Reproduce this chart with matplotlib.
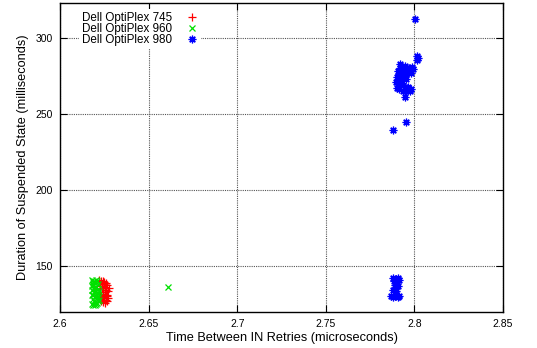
import matplotlib
matplotlib.use("Agg")
import matplotlib.pyplot as plt

plt.rcParams['font.family'] = ['Liberation Sans', 'DejaVu Sans']

series_names = ["Dell OptiPlex 745", "Dell OptiPlex 960", "Dell OptiPlex 980"]

red_x = [2.6222, 2.6230, 2.6245, 2.6258, 2.6268, 2.6225, 2.6238, 2.6250, 2.6262, 2.6272,
         2.6228, 2.6240, 2.6255, 2.6265, 2.6220, 2.6235, 2.6248, 2.6260, 2.6270, 2.6232,
         2.6244, 2.6256, 2.6266, 2.6226, 2.6238, 2.6252, 2.6263, 2.6274, 2.6230, 2.6246]
red_y = [140.5, 139.8, 140.2, 138.9, 137.5, 136.8, 135.5, 137.9, 134.2, 133.5,
         132.9, 131.8, 133.0, 130.5, 129.8, 128.6, 129.5, 127.9, 128.8, 126.8,
         126.2, 125.9, 127.0, 134.8, 138.2, 136.0, 131.2, 135.8, 130.0, 139.5]

green_x = [2.6178, 2.6185, 2.6192, 2.6200, 2.6208, 2.6215, 2.6180, 2.6188, 2.6196, 2.6204,
           2.6212, 2.6220, 2.6182, 2.6190, 2.6198, 2.6206, 2.6214, 2.6179, 2.6187, 2.6195,
           2.6203, 2.6211, 2.6219, 2.6184, 2.6192, 2.6200, 2.6208, 2.6216, 2.6181, 2.6189,
           2.6197, 2.6205, 2.6213, 2.6186, 2.6194, 2.6202, 2.6210, 2.6612]
green_y = [140.8, 139.5, 140.2, 138.6, 139.9, 137.8, 136.9, 137.5, 135.8, 136.4,
           134.9, 133.8, 134.2, 132.8, 133.5, 131.9, 132.4, 130.8, 131.2, 129.6,
           130.1, 128.7, 127.9, 128.2, 127.0, 126.5, 125.8, 126.9, 125.2, 124.6,
           124.1, 124.9, 129.4, 138.2, 135.1, 141.0, 130.6, 136.2]

blue_x = [2.7882, 2.7895, 2.7908, 2.7885, 2.7900, 2.7912, 2.7890, 2.7905, 2.7893, 2.7880,
          2.7898, 2.7870, 2.7880, 2.7892, 2.7905, 2.7912,
          2.8003, 2.8015, 2.8018, 2.8012,
          2.7920, 2.7945, 2.7970, 2.7990, 2.7935, 2.7905, 2.7960, 2.7980, 2.7915, 2.7940,
          2.7900, 2.7925, 2.7955, 2.7910, 2.7898, 2.7930, 2.7965, 2.7950, 2.7985, 2.7918,
          2.7905, 2.7925, 2.7945, 2.7965, 2.7980, 2.7915, 2.7935, 2.7955, 2.7975, 2.7900,
          2.7945, 2.7950, 2.7882]
blue_y = [142.0, 141.5, 142.2, 140.0, 139.2, 140.6, 137.5, 136.8, 135.0, 134.2,
          133.5, 130.0, 129.5, 130.2, 129.6, 130.4,
          312.5, 288.0, 286.5, 285.2,
          283.0, 281.5, 280.2, 279.6, 279.0, 278.2, 277.5, 276.8, 276.0, 275.4,
          274.6, 273.8, 273.0, 272.3, 271.2, 270.6, 279.4, 276.2, 281.0, 280.4,
          269.5, 268.8, 268.0, 267.5, 266.6, 266.2, 265.4, 264.8, 265.0, 267.0,
          261.0, 244.5, 239.5]

x_ticks = [2.6, 2.65, 2.7, 2.75, 2.8, 2.85]
x_tick_labels = ["2.6", "2.65", "2.7", "2.75", "2.8", "2.85"]
y_ticks = [150, 200, 250, 300]
y_tick_labels = ["150", "200", "250", "300"]

fig = plt.figure(figsize=(5.37, 3.48), dpi=100)
ax = fig.add_axes([60/537, 36/348, 443/537, 309/348])

ax.plot(red_x, red_y, linestyle='none', marker='+', markersize=6, markeredgewidth=0.9,
        color='#ff0000', label=series_names[0])
ax.plot(green_x, green_y, linestyle='none', marker='x', markersize=4.5, markeredgewidth=0.9,
        color='#00e000', label=series_names[1])
ax.plot(blue_x, blue_y, linestyle='none', marker=(8, 2, 0), markersize=5.5, markeredgewidth=0.9,
        color='#0000ff', label=series_names[2])

ax.set_xlim(2.6, 2.85)
ax.set_ylim(119.7, 323)
ax.set_xticks(x_ticks)
ax.set_xticklabels(x_tick_labels, fontsize=7.5)
ax.set_yticks(y_ticks)
ax.set_yticklabels(y_tick_labels, fontsize=7.5)
ax.tick_params(direction='in', top=True, right=True, length=5, width=0.8, pad=5)
ax.grid(True, color='#555555', linestyle=(0, (1, 1)), linewidth=0.8)
for s in ax.spines.values():
    s.set_linewidth(1.0)

ax.set_xlabel("Time Between IN Retries (microseconds)", fontsize=9.2, labelpad=2)
ax.set_ylabel("Duration of Suspended State (milliseconds)", fontsize=9.2, labelpad=5)

leg = ax.legend(loc='upper left', bbox_to_anchor=(0.03, 1.0), markerfirst=False,
                fontsize=8.4, frameon=True, framealpha=1.0, facecolor='white',
                edgecolor='none', borderpad=0.25, labelspacing=-0.08, handlelength=1.0,
                handletextpad=1.2, fancybox=False)

fig.savefig("out.png", dpi=100)
